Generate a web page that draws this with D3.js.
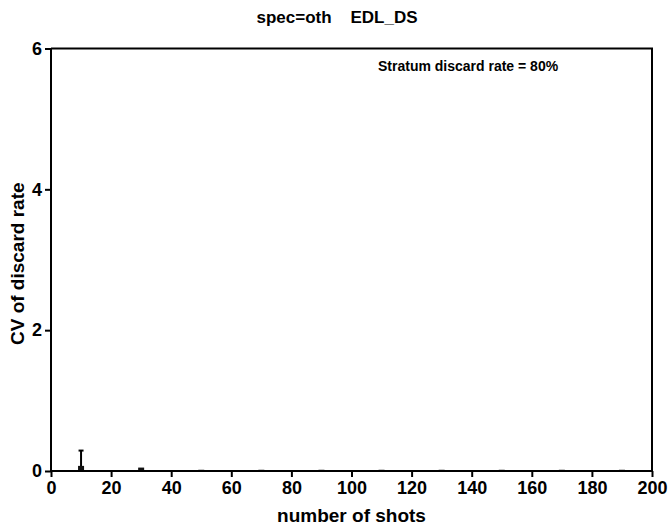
<!DOCTYPE html>
<html>
<head>
<meta charset="utf-8">
<script src="https://cdn.jsdelivr.net/npm/d3@7"></script>
<style>
  body { margin: 0; background: #fff; }
  svg text { font-family: "Liberation Sans", Arial, sans-serif; font-weight: bold; fill: #000; }
</style>
</head>
<body>
<svg id="chart" width="672" height="529"></svg>
<script>
// data
const shots   = [10, 30, 50, 70, 90, 110, 130, 150, 170, 190];
const cvMean  = [0.03, 0.006, -0.025, -0.025, -0.025, -0.025, -0.025, -0.025, -0.025, -0.025];
const cvUpper = [0.29, null, null, null, null, null, null, null, null, null];
const xTicks  = [0, 20, 40, 60, 80, 100, 120, 140, 160, 180, 200];
const yTicks  = [0, 2, 4, 6];

const W = 672, H = 529;
const m = { left: 51, right: 20, top: 48.5, bottom: 58 };

const svg = d3.select('#chart');

const x = d3.scaleLinear().domain([0, 200]).range([m.left, W - m.right]);
const y = d3.scaleLinear().domain([0, 6]).range([H - m.bottom, m.top]);

// clip marks to plot area
svg.append('clipPath').attr('id', 'plotClip')
  .append('rect')
  .attr('x', m.left).attr('y', m.top)
  .attr('width', W - m.left - m.right).attr('height', H - m.top - m.bottom);

// frame (top + right)
svg.append('path')
  .attr('d', `M${m.left},${m.top}H${W - m.right}V${H - m.bottom}`)
  .attr('fill', 'none').attr('stroke', '#000').attr('stroke-width', 2);

const marks = svg.append('g').attr('clip-path', 'url(#plotClip)');

// error bars
const pts = shots.map((s, i) => ({ s, v: cvMean[i], u: cvUpper[i] }));
const eb = marks.selectAll('.eb').data(pts.filter(d => d.u != null)).join('g');
eb.append('line')
  .attr('x1', d => x(d.s)).attr('x2', d => x(d.s))
  .attr('y1', d => y(d.v)).attr('y2', d => y(d.u))
  .attr('stroke', '#000').attr('stroke-width', 2);
eb.append('line')
  .attr('x1', d => x(d.s) - 2.5).attr('x2', d => x(d.s) + 2.5)
  .attr('y1', d => y(d.u)).attr('y2', d => y(d.u))
  .attr('stroke', '#000').attr('stroke-width', 2);

// markers
marks.selectAll('.pt').data(pts).join('rect')
  .attr('x', d => x(d.s) - 3).attr('y', d => y(d.v) - 3)
  .attr('width', 6).attr('height', 6)
  .attr('fill', '#111');

// axes
const xAxis = svg.append('g')
  .attr('transform', `translate(0,${H - m.bottom})`)
  .call(d3.axisBottom(x).tickValues(xTicks).tickSize(6).tickPadding(4).tickFormat(d3.format('d')));
const yAxis = svg.append('g')
  .attr('transform', `translate(${m.left},0)`)
  .call(d3.axisLeft(y).tickValues(yTicks).tickSize(6).tickPadding(3).tickFormat(d3.format('d')));

[xAxis, yAxis].forEach(a => {
  a.select('.domain').attr('stroke', '#000').attr('stroke-width', 2);
  a.selectAll('.tick line').attr('stroke', '#000').attr('stroke-width', 2);
  a.selectAll('.tick text').style('font-size', '18px').style('font-weight', 'bold')
    .style('font-family', '"Liberation Sans", Arial, sans-serif').attr('fill', '#000');
});
// plain axis lines without outer ticks
xAxis.select('.domain').attr('d', `M${m.left},0H${W - m.right}`);
yAxis.select('.domain').attr('d', `M0,${m.top}V${H - m.bottom}`);

// titles
svg.append('text')
  .attr('x', 337).attr('y', 23)
  .attr('text-anchor', 'middle')
  .style('font-size', '17px')
  .style('white-space', 'pre')
  .text('spec=oth    EDL_DS');

svg.append('text')
  .attr('x', 378).attr('y', 71)
  .style('font-size', '14px')
  .text('Stratum discard rate = 80%');

svg.append('text')
  .attr('x', (m.left + W - m.right) / 2).attr('y', 522)
  .attr('text-anchor', 'middle')
  .style('font-size', '19px')
  .text('number of shots');

svg.append('text')
  .attr('transform', `translate(24,${(m.top + H - m.bottom) / 2 + 4}) rotate(-90)`)
  .attr('text-anchor', 'middle')
  .style('font-size', '19px')
  .text('CV of discard rate');
</script>
</body>
</html>
